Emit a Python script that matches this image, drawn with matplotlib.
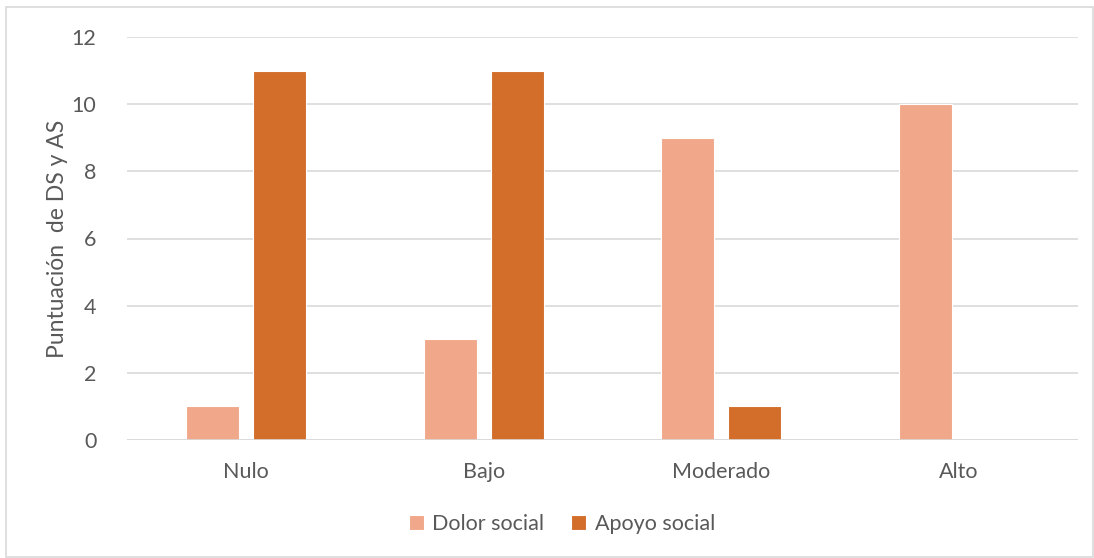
import matplotlib
matplotlib.use("Agg")
import matplotlib.pyplot as plt
import numpy as np
from matplotlib.patches import Rectangle

categories = ["Nulo", "Bajo", "Moderado", "Alto"]
dolor_social = [1, 3, 9, 10]
apoyo_social = [11, 11, 1, 0]
series_names = ["Dolor social", "Apoyo social"]
yticks = [0, 2, 4, 6, 8, 10, 12]

plt.rcParams['font.family'] = ['Lato', 'DejaVu Sans']
txt = '#595959'

fig = plt.figure(figsize=(10.94, 5.58), dpi=100)
fig.patches.append(Rectangle((6/1094, 1/558), 1087/1094, 550/558, transform=fig.transFigure,
                             fill=False, edgecolor='#d9d9d9', linewidth=1.2))
ax = fig.add_axes([127/1094, 1-440/558, 951/1094, 403/558])

x = np.arange(len(categories))
w = 0.223
gap = 14/237.75
ax.bar(x - (w+gap)/2, dolor_social, w, color='#F1A88A', edgecolor='white', linewidth=0.8,
       label=series_names[0], zorder=3)
ax.bar(x + (w+gap)/2, apoyo_social, w, color='#D26D2A', edgecolor='white', linewidth=0.8,
       label=series_names[1], zorder=3)

ax.set_xlim(-0.5, len(categories) - 0.5)
ax.set_ylim(0, 12)
ax.set_yticks(yticks)
ax.yaxis.grid(True, color='#d9d9d9', linewidth=1.2, zorder=0)
for s in ax.spines.values():
    s.set_visible(False)
ax.axhline(0, color='#d9d9d9', linewidth=1.2, zorder=4)
ax.tick_params(axis='both', length=0, colors=txt, labelsize=15.5)
ax.tick_params(axis='y', pad=22)
ax.tick_params(axis='x', pad=16)
ax.set_xticks(x)
ax.set_xticklabels(categories)
ax.set_ylabel("Puntuación  de DS y AS", color=txt, fontsize=16.5)
ax.yaxis.set_label_coords(-(127-68)/951, 0.5)

leg = fig.legend(loc='center', bbox_to_anchor=(562/1094, 1-524/558), ncol=2, frameon=False,
                 fontsize=15.5, handlelength=0.7, handleheight=0.7, columnspacing=1.25,
                 handletextpad=0.4)
for t in leg.get_texts():
    t.set_color(txt)

fig.savefig("out.png", dpi=100)
